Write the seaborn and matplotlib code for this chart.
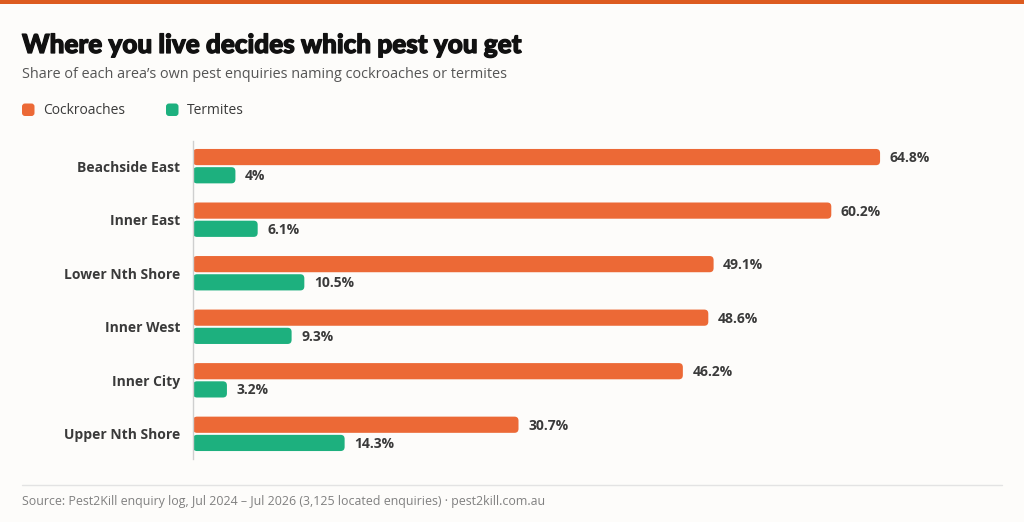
"""Grouped horizontal bars: cockroach vs termite share of pest enquiries by area."""

import matplotlib
import matplotlib.pyplot as plt
import matplotlib.patheffects as pe
import pandas as pd
import seaborn as sns
from matplotlib.patches import FancyBboxPatch, Rectangle
from matplotlib.lines import Line2D

matplotlib.use("Agg")

AREAS = [
    "Beachside East",
    "Inner East",
    "Lower Nth Shore",
    "Inner West",
    "Inner City",
    "Upper Nth Shore",
]
COCKROACHES = [64.8, 60.2, 49.1, 48.6, 46.2, 30.7]
TERMITES = [4.0, 6.1, 10.5, 9.3, 3.2, 14.3]
PESTS = ["Cockroaches", "Termites"]

ORANGE = "#EC6936"
GREEN = "#1DB07E"
BG = "#FDFCFA"
TEXT = "#3A3A3A"

df = pd.DataFrame({
    "area": AREAS * 2,
    "pest": [PESTS[0]] * len(AREAS) + [PESTS[1]] * len(AREAS),
    "share": COCKROACHES + TERMITES,
})

sns.set_theme(style="white")
plt.rcParams["font.family"] = ["Open Sans", "DejaVu Sans"]

W, H = 1024, 522
fig = plt.figure(figsize=(W / 100, H / 100), dpi=100, facecolor=BG)
ax = fig.add_axes([193 / W, 1 - 459 / H, (1002 - 193) / W, 318 / H])
ax.set_facecolor(BG)

sns.barplot(
    data=df, y="area", x="share", hue="pest", order=AREAS, hue_order=PESTS,
    palette=[ORANGE, GREEN], orient="h", width=0.68, gap=0.11,
    legend=False, ax=ax, saturation=1,
)

ax.set_xlim(0, 76.3)
ax.set_ylim(5.47, -0.47)

# swap plain rectangles for rounded ones
for bar in list(ax.patches):
    x0, y0 = bar.get_x(), bar.get_y()
    w, h = bar.get_width(), bar.get_height()
    color = bar.get_facecolor()
    bar.remove()
    ax.add_patch(FancyBboxPatch(
        (x0, y0), w, h,
        boxstyle="round,pad=0,rounding_size=0.38",
        mutation_aspect=0.2, facecolor=color, edgecolor="none",
    ))
    val = w
    label = f"{val:.0f}%" if float(val).is_integer() else f"{val:.1f}%"
    ax.text(x0 + w + 0.9, y0 + h / 2 + 0.02, label, va="center", ha="left",
            fontsize=10, fontweight="bold", color=TEXT)

for s in ["top", "right", "bottom"]:
    ax.spines[s].set_visible(False)
ax.spines["left"].set_color("#CFCFCF")
ax.spines["left"].set_linewidth(1)
ax.set_xticks([])
ax.set_xlabel("")
ax.set_ylabel("")
ax.tick_params(axis="y", left=False, pad=3)
for t in ax.get_yticklabels():
    t.set_fontweight("bold")
    t.set_fontsize(10)
    t.set_color(TEXT)

# top accent strip
fig.add_artist(Rectangle((0, 1 - 4 / H), 1, 4 / H, transform=fig.transFigure,
                         facecolor="#DD5B1F", edgecolor="none"))

fig.text(22 / W, 1 - 45 / H, "Where you live decides which pest you get",
         fontsize=18.8, fontweight="black", color="#111111", va="center",
         family=["Lato", "DejaVu Sans"],
         path_effects=[pe.withStroke(linewidth=0.9, foreground="#111111")])
fig.text(22 / W, 1 - 74 / H,
         "Share of each area\u2019s own pest enquiries naming cockroaches or termites",
         fontsize=10.4, color="#555555", va="center")

# legend, drawn by hand with rounded swatches
for px, name, col in [(22, PESTS[0], ORANGE), (166, PESTS[1], GREEN)]:
    fig.add_artist(FancyBboxPatch(
        (px / 100, (H - 116) / 100), 0.125, 0.125,
        boxstyle="round,pad=0,rounding_size=0.03",
        transform=fig.dpi_scale_trans, facecolor=col, edgecolor="none"))
    fig.text((px + 21) / W, 1 - 110 / H, name, fontsize=10, color=TEXT,
             va="center")

fig.add_artist(Line2D([22 / W, 1002 / W], [1 - 485 / H, 1 - 485 / H],
                      transform=fig.transFigure, color="#E3E3E3", lw=1))
fig.text(22 / W, 1 - 501 / H,
         "Source: Pest2Kill enquiry log, Jul 2024 \u2013 Jul 2026 (3,125 located enquiries) \u00b7 pest2kill.com.au",
         fontsize=8.9, color="#808080", va="center")

fig.savefig("out.png", dpi=100, facecolor=BG)
